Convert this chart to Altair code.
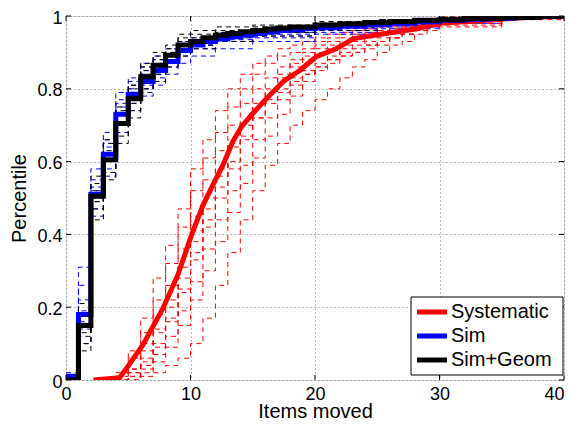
import altair as alt
import pandas as pd

# ---- data ----
sys_x = [2.2, 4.3, 4.9, 6.2, 7.8, 9.0, 10.1, 11.0, 11.8, 12.6, 13.4, 14.1, 14.9, 15.85, 16.1,
         17.45, 18.8, 20.1, 21.7, 23.1, 25.5, 28.2, 30.0, 32.2, 34.3, 37.0, 40.0]
sys_y = [0.0, 0.006, 0.034, 0.098, 0.198, 0.29, 0.40, 0.48, 0.536, 0.59, 0.655, 0.696, 0.728, 0.764, 0.773,
         0.82, 0.851, 0.888, 0.91, 0.938, 0.951, 0.965, 0.98, 0.985, 0.99, 0.996, 1.0]

sim_x = [0, 1, 2, 3, 4, 5, 6, 7, 8, 9, 10, 11, 12, 13, 14, 15, 16, 17, 18, 19, 20, 22, 24, 26, 28, 30, 32, 34, 36, 38, 40]
sim_y = [0.01, 0.18, 0.51, 0.62, 0.73, 0.785, 0.82, 0.85, 0.875, 0.905, 0.92, 0.93, 0.937, 0.943, 0.948, 0.952,
         0.956, 0.96, 0.963, 0.966, 0.968, 0.972, 0.976, 0.98, 0.984, 0.988, 0.991, 0.994, 0.997, 0.999, 1.0]

geom_x = [0, 1, 2, 3, 4, 5, 6, 7, 8, 9, 10, 11, 12, 13, 14, 15, 16, 17, 18, 20, 22, 24, 26, 28, 30, 32, 35, 38, 40]
geom_y = [0.0, 0.15, 0.505, 0.605, 0.705, 0.773, 0.833, 0.865, 0.892, 0.92, 0.93, 0.94, 0.947, 0.952, 0.957,
          0.96, 0.964, 0.967, 0.97, 0.975, 0.979, 0.982, 0.985, 0.988, 0.99, 0.993, 0.996, 0.999, 1.0]

# individual trials (dashed)
red_trial_x = list(range(4, 31)) + [35, 40]
red_trials = [
    [0.02, 0.08, 0.17, 0.28, 0.37, 0.47, 0.58, 0.66, 0.74, 0.80, 0.84, 0.87, 0.89, 0.91, 0.92, 0.93, 0.94, 0.95, 0.955, 0.96, 0.965, 0.97, 0.975, 0.98, 0.985, 0.99, 1.0, 1.0, 1.0],
    [0.01, 0.06, 0.13, 0.22, 0.32, 0.42, 0.52, 0.61, 0.68, 0.75, 0.80, 0.84, 0.87, 0.89, 0.90, 0.91, 0.93, 0.94, 0.95, 0.96, 0.965, 0.97, 0.975, 0.98, 0.985, 0.99, 0.995, 1.0, 1.0],
    [0.0, 0.03, 0.10, 0.18, 0.26, 0.36, 0.45, 0.55, 0.63, 0.70, 0.76, 0.80, 0.83, 0.86, 0.88, 0.90, 0.92, 0.93, 0.94, 0.95, 0.955, 0.96, 0.97, 0.975, 0.98, 0.985, 0.99, 1.0, 1.0],
    [0.0, 0.02, 0.06, 0.13, 0.20, 0.28, 0.38, 0.47, 0.56, 0.64, 0.70, 0.75, 0.79, 0.83, 0.86, 0.88, 0.90, 0.91, 0.92, 0.93, 0.94, 0.95, 0.96, 0.97, 0.975, 0.98, 0.99, 1.0, 1.0],
    [0.0, 0.01, 0.04, 0.09, 0.16, 0.24, 0.33, 0.42, 0.50, 0.58, 0.66, 0.72, 0.77, 0.80, 0.83, 0.85, 0.87, 0.89, 0.91, 0.92, 0.93, 0.94, 0.95, 0.96, 0.97, 0.98, 0.985, 1.0, 1.0],
    [0.0, 0.01, 0.03, 0.07, 0.12, 0.19, 0.27, 0.36, 0.44, 0.52, 0.59, 0.66, 0.72, 0.77, 0.81, 0.84, 0.86, 0.88, 0.89, 0.90, 0.92, 0.93, 0.94, 0.95, 0.96, 0.97, 0.98, 1.0, 1.0],
    [0.0, 0.0, 0.02, 0.05, 0.09, 0.15, 0.22, 0.30, 0.38, 0.46, 0.54, 0.61, 0.67, 0.73, 0.78, 0.82, 0.85, 0.87, 0.89, 0.90, 0.91, 0.92, 0.94, 0.95, 0.96, 0.97, 0.98, 0.995, 1.0],
    [0.0, 0.0, 0.01, 0.02, 0.04, 0.06, 0.10, 0.17, 0.26, 0.35, 0.44, 0.52, 0.59, 0.65, 0.70, 0.74, 0.77, 0.80, 0.83, 0.86, 0.88, 0.90, 0.92, 0.93, 0.95, 0.96, 0.97, 0.99, 1.0],
    [0.0, 0.02, 0.05, 0.10, 0.17, 0.25, 0.35, 0.44, 0.53, 0.60, 0.67, 0.72, 0.76, 0.79, 0.82, 0.84, 0.86, 0.88, 0.90, 0.91, 0.92, 0.93, 0.94, 0.95, 0.96, 0.97, 0.975, 0.995, 1.0],
    [0.0, 0.03, 0.08, 0.14, 0.22, 0.31, 0.41, 0.50, 0.58, 0.65, 0.71, 0.76, 0.80, 0.84, 0.87, 0.89, 0.91, 0.92, 0.93, 0.94, 0.95, 0.96, 0.965, 0.97, 0.975, 0.98, 0.99, 1.0, 1.0],
]

trial_x = [0, 1, 2, 3, 4, 5, 6, 7, 8, 9, 10, 12, 15, 20, 25, 30, 35, 40]
blue_trials = [
    [0.0, 0.22, 0.55, 0.66, 0.77, 0.82, 0.86, 0.88, 0.90, 0.92, 0.935, 0.95, 0.96, 0.975, 0.985, 0.99, 1.0, 1.0],
    [0.0, 0.14, 0.47, 0.58, 0.70, 0.76, 0.80, 0.83, 0.86, 0.89, 0.91, 0.93, 0.945, 0.96, 0.975, 0.985, 1.0, 1.0],
    [0.02, 0.31, 0.58, 0.68, 0.79, 0.83, 0.87, 0.89, 0.91, 0.93, 0.94, 0.955, 0.965, 0.98, 0.99, 0.995, 1.0, 1.0],
    [0.0, 0.10, 0.45, 0.56, 0.68, 0.74, 0.78, 0.81, 0.84, 0.87, 0.89, 0.91, 0.93, 0.95, 0.965, 0.98, 1.0, 1.0],
    [0.01, 0.19, 0.52, 0.64, 0.75, 0.80, 0.84, 0.87, 0.89, 0.91, 0.93, 0.94, 0.955, 0.97, 0.98, 0.99, 1.0, 1.0],
    [0.0, 0.16, 0.49, 0.60, 0.71, 0.77, 0.81, 0.84, 0.87, 0.90, 0.92, 0.935, 0.95, 0.965, 0.978, 0.99, 1.0, 1.0],
    [0.0, 0.26, 0.53, 0.65, 0.76, 0.81, 0.85, 0.86, 0.88, 0.90, 0.92, 0.93, 0.94, 0.955, 0.97, 0.985, 1.0, 1.0],
]
black_trials = [
    [0.0, 0.12, 0.47, 0.57, 0.67, 0.74, 0.80, 0.84, 0.87, 0.90, 0.92, 0.94, 0.955, 0.97, 0.985, 0.99, 1.0, 1.0],
    [0.0, 0.18, 0.54, 0.65, 0.74, 0.80, 0.86, 0.89, 0.91, 0.94, 0.95, 0.96, 0.97, 0.98, 0.99, 0.995, 1.0, 1.0],
    [0.0, 0.08, 0.44, 0.55, 0.65, 0.72, 0.79, 0.82, 0.86, 0.89, 0.91, 0.93, 0.945, 0.96, 0.975, 0.985, 1.0, 1.0],
    [0.0, 0.15, 0.52, 0.63, 0.73, 0.79, 0.85, 0.88, 0.90, 0.93, 0.94, 0.955, 0.965, 0.98, 0.99, 0.995, 1.0, 1.0],
    [0.0, 0.21, 0.56, 0.66, 0.75, 0.81, 0.87, 0.90, 0.92, 0.95, 0.96, 0.97, 0.975, 0.985, 0.99, 1.0, 1.0, 1.0],
    [0.0, 0.13, 0.49, 0.60, 0.70, 0.76, 0.82, 0.85, 0.88, 0.91, 0.93, 0.945, 0.955, 0.97, 0.98, 0.99, 1.0, 1.0],
    [0.0, 0.10, 0.50, 0.62, 0.71, 0.78, 0.84, 0.86, 0.89, 0.92, 0.935, 0.95, 0.96, 0.975, 0.985, 0.995, 1.0, 1.0],
]

x_ticks = [0, 10, 20, 30, 40]
y_ticks = [0, 0.2, 0.4, 0.6, 0.8, 1.0]

series = ["Systematic", "Sim", "Sim+Geom"]
colors = ["#ff0000", "#0000ff", "#000000"]

# ---- build tables ----
rows = []
for i, ys in enumerate(red_trials):
    for x, y in zip(red_trial_x, ys):
        rows.append({"trial": f"r{i}", "x": x, "y": y, "c": "#ff0000"})
for i, ys in enumerate(blue_trials):
    for x, y in zip(trial_x, ys):
        rows.append({"trial": f"b{i}", "x": x, "y": y, "c": "#0000ff"})
for i, ys in enumerate(black_trials):
    for x, y in zip(trial_x, ys):
        rows.append({"trial": f"k{i}", "x": x, "y": y, "c": "#000000"})
trials_df = pd.DataFrame(rows)

sys_df = pd.DataFrame({"x": sys_x, "y": sys_y, "series": "Systematic"})
sim_df = pd.DataFrame({"x": sim_x, "y": sim_y, "series": "Sim"})
geom_df = pd.DataFrame({"x": geom_x, "y": geom_y, "series": "Sim+Geom"})
leg_df = pd.DataFrame({"series": series, "i": list(range(len(series)))})

W, H = 498, 364
xs = alt.Scale(domain=[0, 40], nice=False)
ys = alt.Scale(domain=[0, 1], nice=False)
color_scale = alt.Scale(domain=series, range=colors)

font = "Liberation Sans"
xaxis = alt.Axis(values=x_ticks, title="Items moved", ticks=False, domain=False, grid=True,
                 gridDash=[1, 3], gridColor="#555555", gridOpacity=0.8, labelFontSize=18,
                 titleFontSize=20, labelPadding=5, labelColor="black",
                 titleColor="black", titleFontWeight="normal", labelFont=font, titleFont=font,
                 titleY=37, titleBaseline="alphabetic", labelFlush=False,
                 labelAlign={"condition": {"test": "datum.value == 40", "value": "right"},
                             "value": "center"})
yaxis = alt.Axis(values=y_ticks, title="Percentile", ticks=False, domain=False, grid=True,
                 gridDash=[1, 3], gridColor="#555555", gridOpacity=0.8, labelFontSize=18,
                 titleFontSize=20, labelPadding=4, labelColor="black", labelOffset=2,
                 titleColor="black", titleFontWeight="normal", labelFont=font, titleFont=font,
                 titleX=-41, titleBaseline="alphabetic", labelFlush=False,
                 labelExpr="datum.value == 0 ? '0' : datum.value == 1 ? '1' : format(datum.value, '.1f')")

base_x = alt.X("x:Q", scale=xs, axis=xaxis)
base_y = alt.Y("y:Q", scale=ys, axis=yaxis)

dashed = alt.Chart(trials_df).mark_line(interpolate="step-after", strokeWidth=1,
                                        strokeDash=[5, 4], clip=True).encode(
    x=base_x, y=base_y, detail="trial:N", color=alt.Color("c:N", scale=None)
)

sys_line = alt.Chart(sys_df).mark_line(strokeWidth=5, clip=True).encode(
    x=base_x, y=base_y, color=alt.Color("series:N", scale=color_scale, legend=None))
sim_line = alt.Chart(sim_df).mark_line(strokeWidth=5, interpolate="step-after", clip=True).encode(
    x=base_x, y=base_y, color=alt.Color("series:N", scale=color_scale, legend=None))
geom_line = alt.Chart(geom_df).mark_line(strokeWidth=5, interpolate="step-after", clip=True).encode(
    x=base_x, y=base_y, color=alt.Color("series:N", scale=color_scale, legend=None))

# inward ticks on all four sides
xt = pd.DataFrame({"x": x_ticks})
yt = pd.DataFrame({"y": y_ticks})
xt_bot = alt.Chart(xt).mark_rule(color="black", strokeWidth=1).encode(
    x=alt.X("x:Q", scale=xs), y=alt.value(H), y2=alt.value(H - 5))
xt_top = alt.Chart(xt).mark_rule(color="black", strokeWidth=1).encode(
    x=alt.X("x:Q", scale=xs), y=alt.value(0), y2=alt.value(5))
yt_l = alt.Chart(yt).mark_rule(color="black", strokeWidth=1).encode(
    y=alt.Y("y:Q", scale=ys), x=alt.value(0), x2=alt.value(5))
yt_r = alt.Chart(yt).mark_rule(color="black", strokeWidth=1).encode(
    y=alt.Y("y:Q", scale=ys), x=alt.value(W), x2=alt.value(W - 5))

# legend box (lower right, MATLAB style)
LX0, LX1, LY0, LY1 = 345, 497, 281, 359
leg_box = alt.Chart(pd.DataFrame({"k": [0]})).mark_rect(
    fill="white", stroke="black", strokeWidth=1).encode(
    x=alt.value(LX0), x2=alt.value(LX1), y=alt.value(LY0), y2=alt.value(LY1))
leg_base = alt.Chart(leg_df).transform_calculate(ly=f"{LY0 + 15} + 24 * datum.i")
leg_lines = leg_base.mark_rule(strokeWidth=5).encode(
    x=alt.value(LX0 + 6), x2=alt.value(LX0 + 36),
    y=alt.Y("ly:Q", scale=None),
    color=alt.Color("series:N", scale=color_scale, legend=None))
leg_text = leg_base.mark_text(align="left", baseline="middle", fontSize=20, font=font,
                              color="black").encode(
    x=alt.value(LX0 + 40), y=alt.Y("ly:Q", scale=None), text="series:N")

chart = alt.layer(dashed, sys_line, sim_line, geom_line, xt_bot, xt_top, yt_l, yt_r,
                  leg_box, leg_lines, leg_text).properties(
    width=W, height=H,
    autosize=alt.AutoSizeParams(type="none"),
    padding={"left": 58, "top": 8, "right": 2, "bottom": 41},
).configure_view(stroke="black", strokeWidth=1.2).configure(background="white")

chart.save("out.html", embed_options={"renderer": "svg", "actions": False})
